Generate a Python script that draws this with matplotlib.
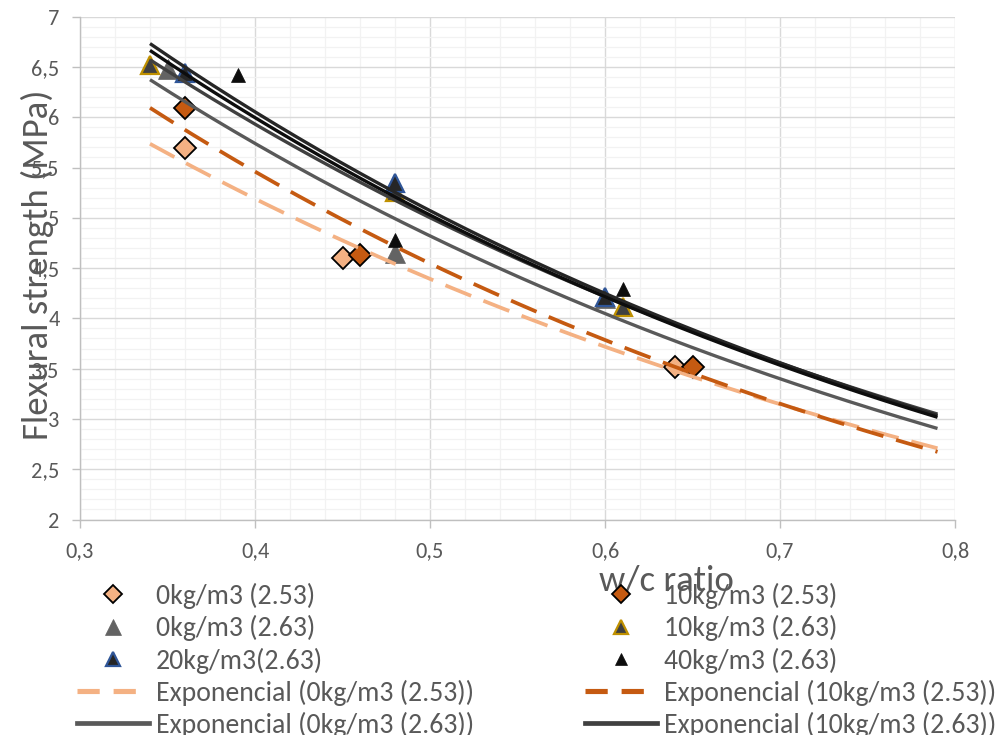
import numpy as np
import matplotlib
matplotlib.use("Agg")
import matplotlib.pyplot as plt
from matplotlib.lines import Line2D
from matplotlib.ticker import MultipleLocator, FuncFormatter
from matplotlib import font_manager

# ---------------- data ----------------
wc_0kg_253 = [0.36, 0.45, 0.64]
fs_0kg_253 = [5.69, 4.60, 3.52]
wc_10kg_253 = [0.36, 0.46, 0.65]
fs_10kg_253 = [6.09, 4.63, 3.52]
wc_0kg_263 = [0.35, 0.48, 0.60]
fs_0kg_263 = [6.48, 4.65, 4.20]
wc_10kg_263 = [0.34, 0.48, 0.61]
fs_10kg_263 = [6.52, 5.26, 4.11]
wc_20kg_263 = [0.36, 0.48, 0.60]
fs_20kg_263 = [6.44, 5.35, 4.21]
wc_40kg_263 = [0.39, 0.48, 0.61]
fs_40kg_263 = [6.42, 4.78, 4.29]

series_labels = ["0kg/m3 (2.53)", "10kg/m3 (2.53)", "0kg/m3 (2.63)",
                 "10kg/m3 (2.63)", "20kg/m3(2.63)", "40kg/m3 (2.63)"]
trend_range = [0.34, 0.79]
x_ticks = [0.3, 0.4, 0.5, 0.6, 0.7, 0.8]
y_ticks = [2, 2.5, 3, 3.5, 4, 4.5, 5, 5.5, 6, 6.5, 7]
x_label = "w/c ratio"
y_label = "Flexural strength (MPa)"

# ---------------- fonts ----------------
names = {f.name for f in font_manager.fontManager.ttflist}
fam = "Carlito" if "Carlito" in names else "Lato"
fs_tick, fs_leg, fs_lab = 16, 20, 26.5
plt.rcParams["font.family"] = [fam, "DejaVu Sans"]
plt.rcParams["lines.scale_dashes"] = False

TXT = "#595959"

# ---------------- styles ----------------
styles = [
    dict(marker="D", ms=11.5, mfc="#F4B183", mec="black", mew=1.3, lms=9),
    dict(marker="D", ms=11.5, mfc="#C55A11", mec="black", mew=1.3, lms=9),
    dict(marker="^", ms=14, mfc="#636363", mec="#636363", mew=0.5, lms=11),
    dict(marker="^", ms=13, mfc="#404040", mec="#BF9000", mew=1.6, lms=10),
    dict(marker="^", ms=13, mfc="#262626", mec="#2F5597", mew=1.6, lms=10),
    dict(marker="^", ms=10, mfc="#0D0D0D", mec="#0D0D0D", mew=0.5, lms=8.5),
]
trend_styles = [
    dict(color="#F4B183", lw=2.7, dashes=(20, 9.5)),
    dict(color="#C55A11", lw=2.7, dashes=(20, 9.5)),
    dict(color="#595959", lw=2.4, dashes=None),
    dict(color="#404040", lw=2.4, dashes=None),
    dict(color="#262626", lw=2.4, dashes=None),
    dict(color="#0D0D0D", lw=2.4, dashes=None),
]

wcs = [wc_0kg_253, wc_10kg_253, wc_0kg_263, wc_10kg_263, wc_20kg_263, wc_40kg_263]
fss = [fs_0kg_253, fs_10kg_253, fs_0kg_263, fs_10kg_263, fs_20kg_263, fs_40kg_263]

fig = plt.figure(figsize=(10.05, 7.35), dpi=100)
W, H = 1005, 735
ax = fig.add_axes([80 / W, 1 - 519.5 / H, 875 / W, 502.8 / H])

ax.set_xlim(0.3, 0.8)
ax.set_ylim(2, 7)
ax.set_xticks(x_ticks)
ax.set_yticks(y_ticks)
ax.xaxis.set_minor_locator(MultipleLocator(0.02))
ax.yaxis.set_minor_locator(MultipleLocator(0.1))
fmt = FuncFormatter(lambda v, p: f"{v:g}".replace(".", ","))
ax.xaxis.set_major_formatter(fmt)
ax.yaxis.set_major_formatter(fmt)

ax.set_axisbelow(True)
ax.grid(which="minor", color="#F2F2F2", lw=0.9)
ax.grid(which="major", color="#D9D9D9", lw=1.0)
for s in ["top", "right"]:
    ax.spines[s].set_visible(False)
for s in ["left", "bottom"]:
    ax.spines[s].set_color("#BFBFBF")
    ax.spines[s].set_linewidth(1.0)
ax.tick_params(which="major", direction="out", length=5.8, width=1.0, color="#BFBFBF",
               labelsize=fs_tick, labelcolor=TXT)
ax.tick_params(axis="y", which="major", pad=9)
ax.tick_params(axis="x", which="major", pad=10)
ax.tick_params(which="minor", length=0)

xt = np.linspace(trend_range[0], trend_range[1], 300)
scatter_handles, trend_handles = [], []
for x, y, st, lab in zip(wcs, fss, styles, series_labels):
    ax.plot(x, y, ls="none", marker=st["marker"], ms=st["ms"], mfc=st["mfc"],
            mec=st["mec"], mew=st["mew"], zorder=3)
    scatter_handles.append(Line2D([], [], ls="none", marker=st["marker"], ms=st["lms"],
                                  mfc=st["mfc"], mec=st["mec"], mew=st["mew"], label=lab))
for x, y, ts, lab in zip(wcs, fss, trend_styles, series_labels):
    b, a = np.polyfit(np.array(x), np.log(np.array(y)), 1)
    yt = np.exp(a + b * xt)
    kw = dict(color=ts["color"], lw=ts["lw"], zorder=4, solid_capstyle="butt",
              dash_capstyle="butt")
    if ts["dashes"]:
        ax.plot(xt, yt, dashes=ts["dashes"], **kw)
        h = Line2D([], [], dashes=(16, 10), color=ts["color"], lw=ts["lw"] + 1)
    else:
        ax.plot(xt, yt, **kw)
        h = Line2D([], [], color=ts["color"], lw=ts["lw"] + 1)
    h.set_label(f"Exponencial ({lab})")
    trend_handles.append(h)

fig.text(37 / W, 1 - 265 / H, y_label, rotation=90, ha="center", va="center",
         fontsize=fs_lab, color=TXT)
fig.text(666 / W, 1 - 581 / H, x_label, ha="center", va="center",
         fontsize=fs_lab, color=TXT)

col1 = [scatter_handles[0], scatter_handles[2], scatter_handles[4],
        trend_handles[0], trend_handles[2], trend_handles[4]]
col2 = [scatter_handles[1], scatter_handles[3], scatter_handles[5],
        trend_handles[1], trend_handles[3], trend_handles[5]]
leg_kw = dict(loc="upper left", frameon=False, fontsize=fs_leg, labelcolor=TXT,
              handlelength=2.6, handletextpad=0.25, labelspacing=0.22,
              borderpad=0, borderaxespad=0)
fig.legend(handles=col1, bbox_to_anchor=(77 / W, 1 - 583 / H), **leg_kw)
fig.legend(handles=col2, bbox_to_anchor=(585 / W, 1 - 583 / H), **leg_kw)

fig.savefig("out.png", dpi=100, facecolor="white")
